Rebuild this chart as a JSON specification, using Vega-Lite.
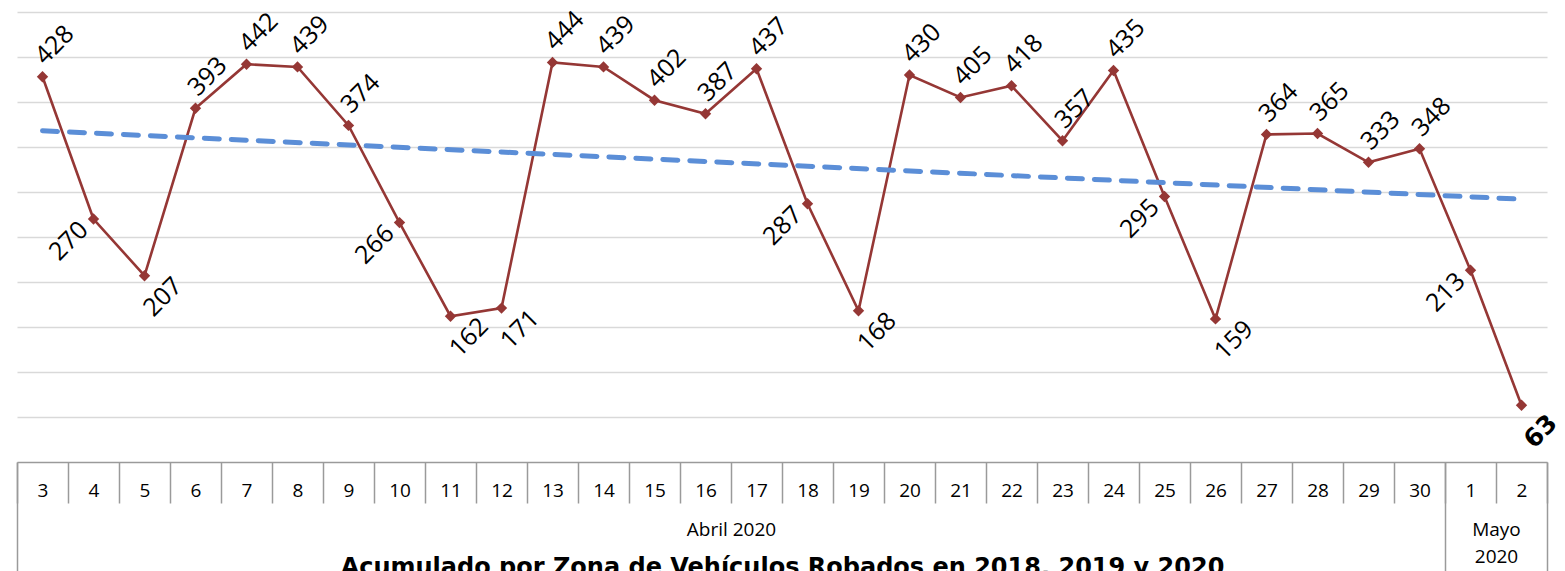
{
  "$schema": "https://vega.github.io/schema/vega-lite/v6.json",
  "width": 1530,
  "height": 450,
  "autosize": {"type": "none"},
  "padding": {"left": 17, "top": 12, "right": 18, "bottom": 109},
  "background": "white",
  "config": {"view": {"stroke": null}},
  "data": {"values": [
    {"i": 1, "dia": "3", "v": 428},
    {"i": 2, "dia": "4", "v": 270},
    {"i": 3, "dia": "5", "v": 207},
    {"i": 4, "dia": "6", "v": 393},
    {"i": 5, "dia": "7", "v": 442},
    {"i": 6, "dia": "8", "v": 439},
    {"i": 7, "dia": "9", "v": 374},
    {"i": 8, "dia": "10", "v": 266},
    {"i": 9, "dia": "11", "v": 162},
    {"i": 10, "dia": "12", "v": 171},
    {"i": 11, "dia": "13", "v": 444},
    {"i": 12, "dia": "14", "v": 439},
    {"i": 13, "dia": "15", "v": 402},
    {"i": 14, "dia": "16", "v": 387},
    {"i": 15, "dia": "17", "v": 437},
    {"i": 16, "dia": "18", "v": 287},
    {"i": 17, "dia": "19", "v": 168},
    {"i": 18, "dia": "20", "v": 430},
    {"i": 19, "dia": "21", "v": 405},
    {"i": 20, "dia": "22", "v": 418},
    {"i": 21, "dia": "23", "v": 357},
    {"i": 22, "dia": "24", "v": 435},
    {"i": 23, "dia": "25", "v": 295},
    {"i": 24, "dia": "26", "v": 159},
    {"i": 25, "dia": "27", "v": 364},
    {"i": 26, "dia": "28", "v": 365},
    {"i": 27, "dia": "29", "v": 333},
    {"i": 28, "dia": "30", "v": 348},
    {"i": 29, "dia": "1", "v": 213},
    {"i": 30, "dia": "2", "v": 63}
  ]},
  "encoding": {
    "y": {
      "field": "v",
      "type": "quantitative",
      "scale": {"domain": [0, 500], "nice": false, "zero": true},
      "axis": {
        "values": [50, 100, 150, 200, 250, 300, 350, 400, 450, 500],
        "grid": true,
        "gridColor": "#d9d9d9",
        "gridWidth": 1.5,
        "labels": false,
        "ticks": false,
        "domain": false,
        "title": null
      }
    }
  },
  "resolve": {"scale": {"x": "independent"}, "axis": {"x": "independent"}},
  "layer": [
    {
      "mark": {"type": "line", "color": "#953735", "strokeWidth": 2.6},
      "encoding": {
        "x": {
          "field": "dia",
          "type": "ordinal",
          "scale": {
            "type": "band",
            "domain": ["3","4","5","6","7","8","9","10","11","12","13","14","15","16","17","18","19","20","21","22","23","24","25","26","27","28","29","30","1","2"],
            "paddingInner": 0,
            "paddingOuter": 0
          },
          "axis": {
            "orient": "bottom",
            "title": null,
            "grid": false,
            "tickBand": "extent",
            "tickSize": 41,
            "tickColor": "#9a9a9a",
            "tickWidth": 1.5,
            "domain": true,
            "domainColor": "#9a9a9a",
            "domainWidth": 1.5,
            "labelAngle": 0,
            "labelPadding": -22,
            "labelFont": "Open Sans",
            "labelFontSize": 19,
            "labelColor": "#000000"
          }
        }
      }
    },
    {
      "mark": {"type": "point", "shape": "diamond", "filled": true, "size": 130, "color": "#953735", "opacity": 1},
      "encoding": {
        "x": {
          "field": "i",
          "type": "quantitative",
          "scale": {"domain": [0.5, 30.5], "nice": false, "zero": false},
          "axis": {
            "orient": "bottom",
            "title": null,
            "grid": false,
            "values": [0.5, 28.5, 30.5],
            "labels": false,
            "domain": false,
            "tickSize": 110,
            "tickColor": "#9a9a9a",
            "tickWidth": 1.5
          }
        }
      }
    },
    {
      "transform": [{"filter": "datum.v >= 300"}],
      "mark": {"type": "text", "angle": -45, "align": "center", "baseline": "middle", "dx": 31, "dy": -14, "font": "Open Sans", "fontSize": 25, "color": "#000000"},
      "encoding": {
        "x": {"field": "i", "type": "quantitative", "scale": {"domain": [0.5, 30.5], "nice": false, "zero": false}, "axis": null},
        "text": {"field": "v", "type": "quantitative"}
      }
    },
    {
      "transform": [
        {"window": [{"op": "lead", "field": "v", "as": "next"}], "sort": [{"field": "i", "order": "ascending"}]},
        {"filter": "datum.v >= 100 && datum.v < 300 && datum.next > datum.v"}
      ],
      "mark": {"type": "text", "angle": -45, "align": "center", "baseline": "middle", "dx": -2, "dy": 28, "font": "Open Sans", "fontSize": 25, "color": "#000000"},
      "encoding": {
        "x": {"field": "i", "type": "quantitative", "scale": {"domain": [0.5, 30.5], "nice": false, "zero": false}, "axis": null},
        "text": {"field": "v", "type": "quantitative"}
      }
    },
    {
      "transform": [{"filter": "datum.v < 100"}],
      "mark": {"type": "text", "angle": -45, "align": "center", "baseline": "middle", "dx": -5, "dy": 32, "font": "DejaVu Sans", "fontWeight": "bold", "fontSize": 25, "color": "#000000"},
      "encoding": {
        "x": {"field": "i", "type": "quantitative", "scale": {"domain": [0.5, 30.5], "nice": false, "zero": false}, "axis": null},
        "text": {"field": "v", "type": "quantitative"}
      }
    },
    {
      "transform": [
        {"window": [{"op": "lead", "field": "v", "as": "next"}], "sort": [{"field": "i", "order": "ascending"}]},
        {"filter": "datum.v < 300 && datum.next != null && datum.next <= datum.v"}
      ],
      "mark": {"type": "text", "angle": -45, "align": "center", "baseline": "middle", "dx": -33, "dy": -2, "font": "Open Sans", "fontSize": 25, "color": "#000000"},
      "encoding": {
        "x": {"field": "i", "type": "quantitative", "scale": {"domain": [0.5, 30.5], "nice": false, "zero": false}, "axis": null},
        "text": {"field": "v", "type": "quantitative"}
      }
    },
    {
      "transform": [{"regression": "v", "on": "i"}],
      "mark": {"type": "line", "color": "#5B8ED7", "strokeWidth": 5, "strokeDash": [15, 12], "strokeCap": "round"},
      "encoding": {
        "x": {
          "field": "i",
          "type": "quantitative",
          "scale": {"domain": [0.5, 30.5], "nice": false, "zero": false},
          "axis": {
            "orient": "bottom",
            "values": [14.5, 29.5],
            "labelExpr": "datum.value < 20 ? 'Abril 2020' : ['Mayo', '2020']",
            "ticks": false,
            "domain": false,
            "grid": false,
            "labelFlush": false,
            "labelPadding": 58,
            "labelFont": "Open Sans",
            "labelFontSize": 19,
            "labelLineHeight": 27,
            "labelColor": "#000000",
            "title": "Acumulado por Zona de Vehículos Robados en 2018, 2019 y 2020",
            "titleFont": "DejaVu Sans",
            "titleFontWeight": "bold",
            "titleFontSize": 24,
            "titleColor": "#000000",
            "titleBaseline": "top",
            "titleY": 93
          }
        }
      }
    }
  ]
}
